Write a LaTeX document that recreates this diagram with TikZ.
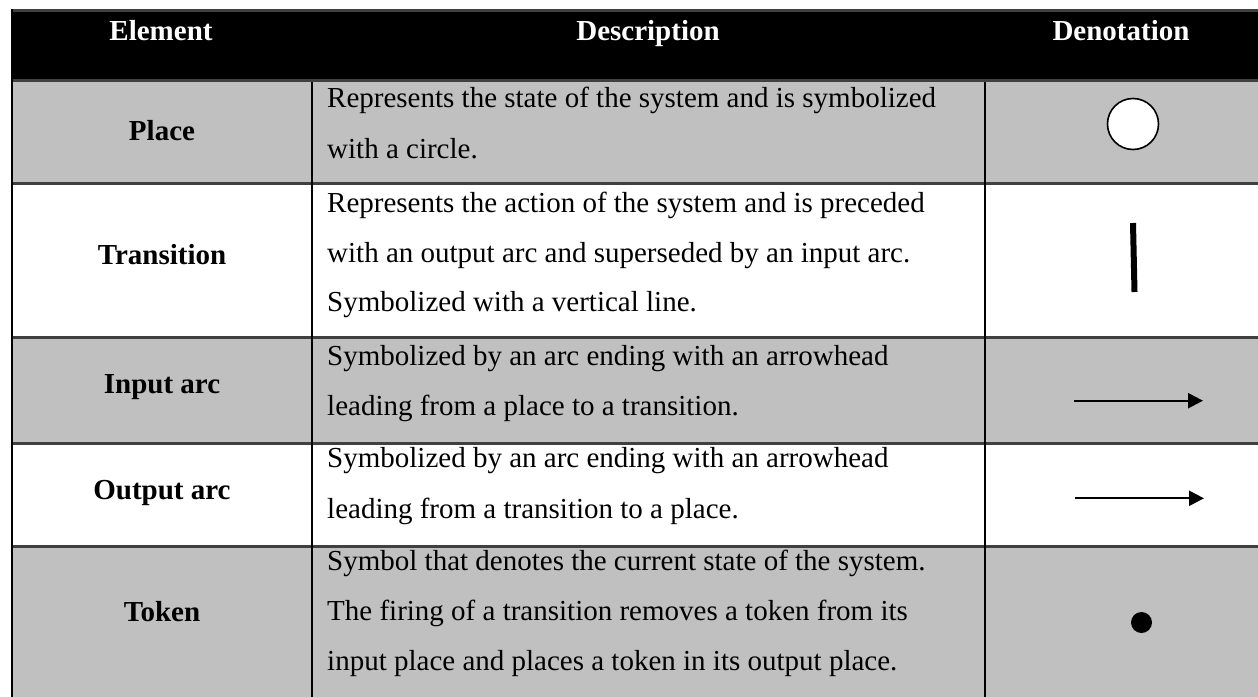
\documentclass[tikz,border=0pt]{standalone}
\usepackage{fontspec}
\setmainfont{Liberation Serif}
\usetikzlibrary{arrows.meta}
\definecolor{rowgray}{RGB}{192,192,192}
\definecolor{sepgray}{RGB}{64,64,64}
\begin{document}
\begin{tikzpicture}[x=1pt,y=-1pt,
  txt/.style={font=\fontsize{29}{29}\selectfont, inner sep=0pt, anchor=base west},
  lbl/.style={font=\fontsize{29}{29}\selectfont\bfseries, inner sep=0pt, anchor=base},
  hdr/.style={lbl, text=white},
  rowsep/.style={draw=sepgray, line width=3pt},
  coldiv/.style={draw=black, line width=2pt},
  arcsym/.style={line width=2.3pt, -{Triangle[length=15pt,width=15pt]}},
]
\useasboundingbox (0,0) rectangle (1258,696);

% row backgrounds
\fill[black]   (12,10.5) rectangle (1262,80.5);
\fill[rowgray] (12,80.5) rectangle (1262,183);
\fill[rowgray] (12,337) rectangle (1262,443.5);
\fill[rowgray] (12,546) rectangle (1262,700);

% horizontal rules
\foreach \y in {10.5,80.5,183,337,443.5,546}
  \draw[rowsep] (12,\y) -- (1262,\y);

% vertical rules
\draw[coldiv] (12,9) -- (12,700);
\draw[coldiv] (312,82) -- (312,700);
\draw[coldiv] (985,82) -- (985,700);

% header
\node[hdr] (hElem) at (161,40) {Element};
\node[hdr] (hDesc) at (648,40) {Description};
\node[hdr] (hDeno) at (1121,40) {Denotation};

% element names
\node[lbl] (lPlace) at (162,140) {Place};
\node[lbl] (lTrans) at (162,264) {Transition};
\node[lbl] (lIn)    at (162,393) {Input arc};
\node[lbl] (lOut)   at (162,499) {Output arc};
\node[lbl] (lTok)   at (162,621) {Token};

% descriptions
\node[txt] (dP1) at (327,107) {Represents the state of the system and is symbolized};
\node[txt] (dP2) at (327,158) {with a circle.};
\node[txt] (dT1) at (327,212) {Represents the action of the system and is preceded};
\node[txt] (dT2) at (327,262) {with an output arc and superseded by an input arc.};
\node[txt] (dT3) at (327,311) {Symbolized with a vertical line.};
\node[txt] (dI1) at (327,365) {Symbolized by an arc ending with an arrowhead};
\node[txt] (dI2) at (327,415) {leading from a place to a transition.};
\node[txt] (dO1) at (327,467) {Symbolized by an arc ending with an arrowhead};
\node[txt] (dO2) at (327,518) {leading from a transition to a place.};
\node[txt] (dK1) at (327,570) {Symbol that denotes the current state of the system.};
\node[txt] (dK2) at (327,620) {The firing of a transition removes a token from its};
\node[txt] (dK3) at (327,670) {input place and places a token in its output place.};

% denotation symbols
\node[circle, draw=black, fill=white, line width=1.6pt, minimum size=51pt, inner sep=0pt] (place) at (1133,124) {};

\coordinate (barTop) at (1133,223);
\coordinate (barBot) at (1134.5,292);
\draw[line width=6pt] (barTop) -- (barBot);

\coordinate (inA) at (1074,400.7);
\coordinate (inB) at (1203,400.7);
\draw[arcsym] (inA) -- (inB);

\coordinate (outA) at (1075,498.3);
\coordinate (outB) at (1204,498.3);
\draw[arcsym] (outA) -- (outB);

\node[circle, fill=black, minimum size=21pt, inner sep=0pt] (token) at (1141.5,622.5) {};
\end{tikzpicture}
\end{document}
